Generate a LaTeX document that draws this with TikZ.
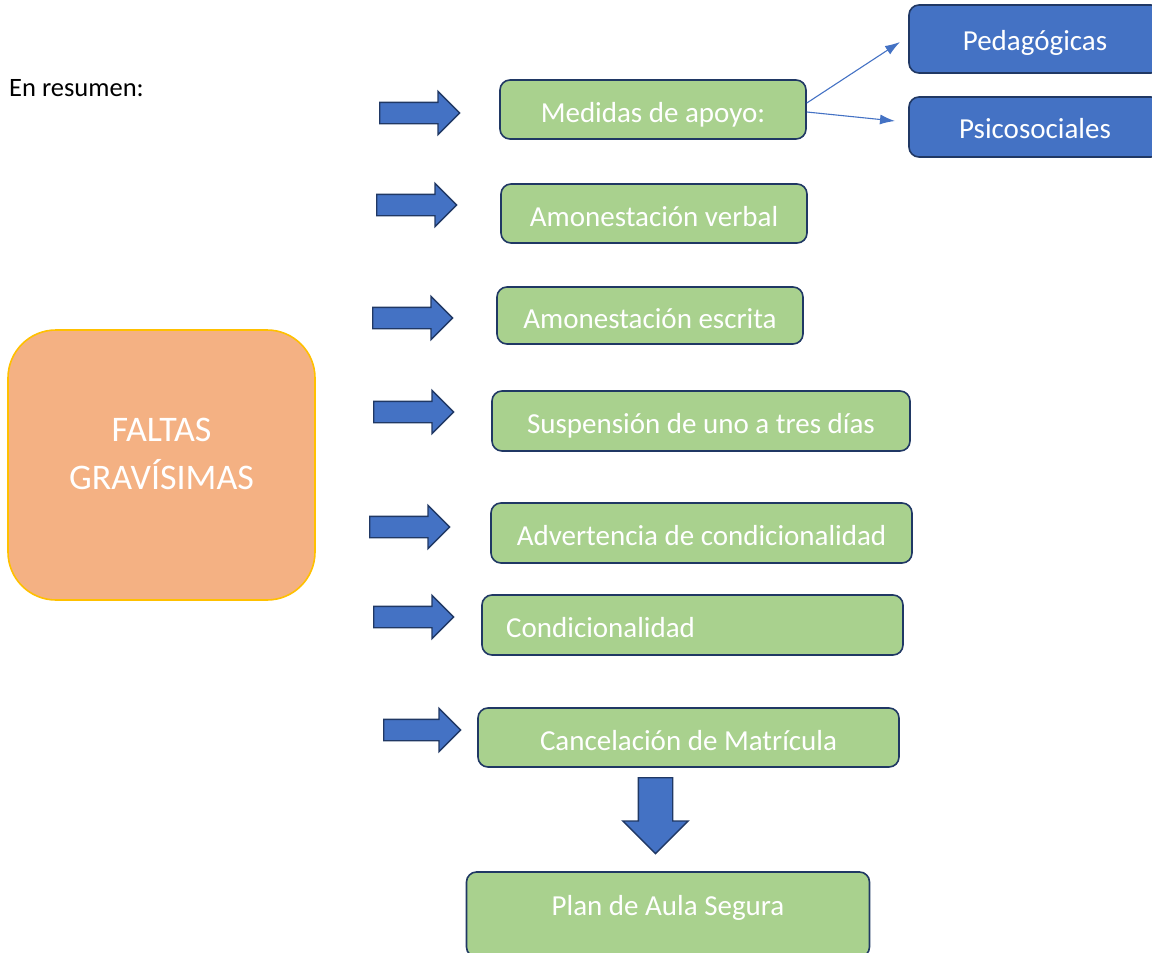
\documentclass[tikz,border=0pt]{standalone}
\usepackage{fontspec}
\setmainfont{Carlito}
\usetikzlibrary{shapes.arrows,arrows.meta}

\definecolor{boxgreen}{HTML}{A9D18E}
\definecolor{boxnavy}{HTML}{203864}
\definecolor{boxblue}{HTML}{4472C4}
\definecolor{mainfill}{HTML}{F4B183}
\definecolor{mainedge}{HTML}{FFC000}

\tikzset{
  gbox/.style={draw=boxnavy, fill=boxgreen, line width=1.6pt, rounded corners=10pt,
    text=white, inner sep=0pt, text height=25pt, text depth=0pt,
    font=\fontsize{29}{34}\selectfont},
  bbox/.style={draw=boxnavy, fill=boxblue, line width=1.6pt, rounded corners=10pt,
    text=white, inner sep=0pt, text height=23pt, text depth=0pt,
    font=\fontsize{29}{34}\selectfont},
  rarrow/.style={single arrow, draw=boxnavy, fill=boxblue, line width=1.4pt,
    inner xsep=0pt, inner ysep=10pt, single arrow head extend=11pt,
    single arrow tip angle=90, minimum height=80pt, anchor=tail},
  thin/.style={draw=boxblue, line width=1.1pt, -{Latex[length=15pt,width=10pt]}},
  plaintext/.style={inner sep=0pt, text=white, font=\fontsize{29}{34}\selectfont},
}

\begin{document}
\begin{tikzpicture}[x=1pt, y=-1pt]
\useasboundingbox (0,0) rectangle (1152,953);

% heading
\node[anchor=base west, inner sep=0pt, font=\fontsize{26.5}{30}\selectfont] (intro) at (9,96) {En resumen:};

% main box
\node[draw=mainedge, fill=mainfill, line width=1.6pt, rounded corners=48pt,
  minimum width=307pt, minimum height=270pt, inner sep=0pt] (main) at (161.5,465) {};
\node[inner sep=0pt, text=white, align=center, font=\fontsize{36}{48}\selectfont]
  (maintext) at (161.5,454) {FALTAS\\GRAVÍSIMAS};

% green boxes
\node[gbox, minimum width=306pt, minimum height=59pt] (apoyo) at (653,109.5) {Medidas de apoyo:};
\node[gbox, minimum width=306pt, minimum height=59pt] (verbal) at (654,213.5) {Amonestación verbal};
\node[gbox, minimum width=306pt, minimum height=57pt] (escrita) at (650,315.5) {Amonestación escrita};
\node[gbox, minimum width=418pt, minimum height=60pt] (susp) at (701,421) {Suspensión de uno a tres días};
\node[gbox, minimum width=421pt, minimum height=60pt] (advert) at (701.5,533) {Advertencia de condicionalidad};
\node[gbox, minimum width=421pt, minimum height=60pt] (cond) at (692.5,625) {};
\node[plaintext, anchor=base west] (condtext) at (506,637) {Condicionalidad};
\node[gbox, minimum width=421pt, minimum height=59pt] (cancel) at (688.5,737.5) {Cancelación de Matrícula};
\node[gbox, minimum width=403pt, minimum height=85pt] (plan) at (668,914.5) {};
\node[plaintext, anchor=base] (plantext) at (668,915) {Plan de Aula Segura};

% blue boxes
\node[bbox, minimum width=252pt, minimum height=68pt] (peda) at (1035,39) {Pedagógicas};
\node[bbox, minimum width=252pt, minimum height=60pt] (psico) at (1035,127) {Psicosociales};

% thin connectors
\draw[thin] (apoyo.east |- 0,103) -- (900,42);
\draw[thin] (apoyo.east |- 0,112) -- (895,121);

% block arrows toward the green boxes
\node[rarrow] (a1) at (379,113) {};
\node[rarrow] (a2) at (376,205) {};
\node[rarrow] (a3) at (372,318) {};
\node[rarrow] (a4) at (373,412) {};
\node[rarrow] (a5) at (369,527) {};
\node[rarrow] (a6) at (373,617) {};
\node[rarrow, minimum height=77pt] (a7) at (383,730) {};

% downward block arrow
\node[rarrow, rotate=-90, inner ysep=16.5pt, single arrow head extend=15.5pt,
  minimum height=76pt] (down) at (655.5,777) {};
\end{tikzpicture}
\end{document}
